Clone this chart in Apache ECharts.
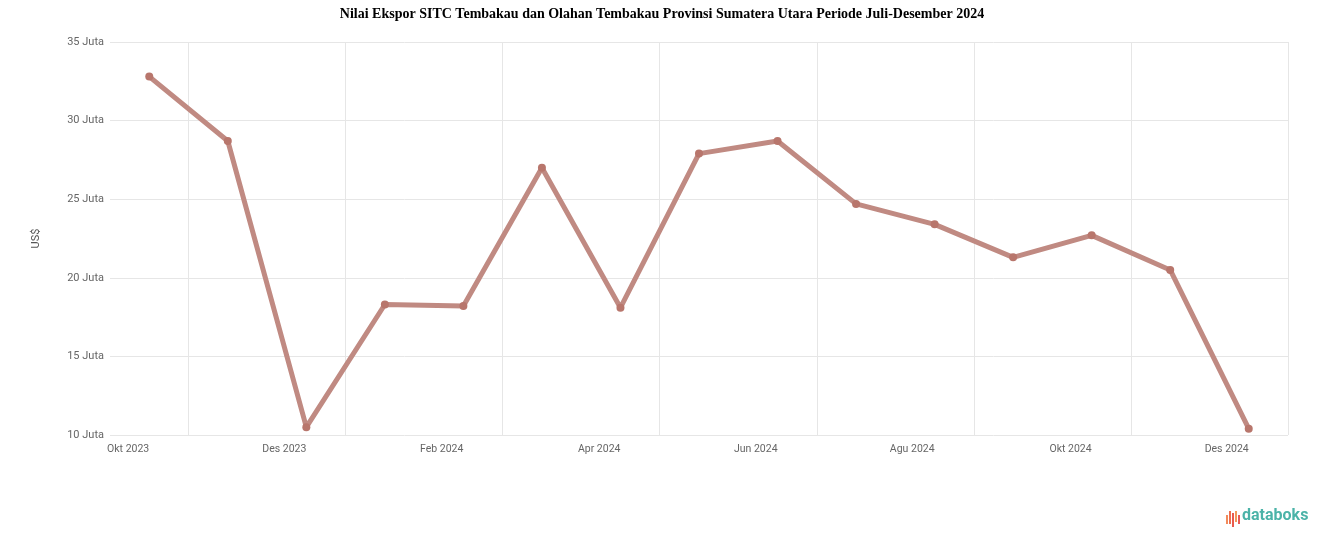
<!DOCTYPE html>
<html>
<head>
<meta charset="utf-8">
<script src="https://cdn.jsdelivr.net/npm/echarts@6/dist/echarts.min.js"></script>
<style>
html,body{margin:0;padding:0;background:#fff;}
#chart{width:1324px;height:547px;}
</style>
</head>
<body>
<div id="chart"></div>
<script>
const titleText = 'Nilai Ekspor SITC Tembakau dan Olahan Tembakau Provinsi Sumatera Utara Periode Juli-Desember 2024';
const categories = ['Okt 2023','Nov 2023','Des 2023','Jan 2024','Feb 2024','Mar 2024','Apr 2024','Mei 2024','Jun 2024','Jul 2024','Agu 2024','Sep 2024','Okt 2024','Nov 2024','Des 2024'];
const values = [32.8, 28.7, 10.5, 18.3, 18.2, 27.0, 18.1, 27.9, 28.7, 24.7, 23.4, 21.3, 22.7, 20.5, 10.4];
const yName = 'US$';
const yMin = 10, yMax = 35, yInterval = 5;
const yUnit = ' Juta';

const chart = echarts.init(document.getElementById('chart'));
chart.setOption({
  backgroundColor: '#ffffff',
  animation: false,
  title: {
    text: titleText,
    left: 'center',
    top: 2,
    textStyle: {fontFamily: 'Liberation Serif', fontWeight: 'bold', fontSize: 14, color: '#000'}
  },
  grid: {left: 110, right: 36, top: 42, bottom: 112},
  xAxis: {
    type: 'category',
    data: categories,
    boundaryGap: true,
    axisLine: {show: false},
    axisTick: {show: false},
    axisLabel: {
      interval: function (i) { return i % 2 === 0; },
      align: 'right',
      margin: 9,
      fontFamily: 'Roboto',
      fontSize: 10.5,
      color: '#666'
    },
    splitLine: {
      show: true,
      interval: function (i) { return i % 2 === 1; },
      lineStyle: {color: '#e6e6e6', width: 1}
    }
  },
  yAxis: {
    type: 'value',
    min: yMin, max: yMax, interval: yInterval,
    name: yName,
    nameLocation: 'middle',
    nameGap: 68,
    nameTextStyle: {fontFamily: 'Roboto', fontSize: 11, color: '#555'},
    axisLine: {show: false},
    axisTick: {show: false},
    axisLabel: {
      formatter: function (v) { return v + yUnit; },
      margin: 6,
      fontFamily: 'Roboto',
      fontSize: 11,
      color: '#666'
    },
    splitLine: {show: true, lineStyle: {color: '#e6e6e6', width: 1}}
  },
  series: [{
    type: 'line',
    data: values,
    symbol: 'circle',
    symbolSize: 8,
    itemStyle: {color: '#b8766c'},
    lineStyle: {color: '#c08a82', width: 5}
  }],
  graphic: [
    {type: 'rect', left: 1226, top: 515, shape: {width: 2, height: 9}, style: {fill: '#f28b5b'}},
    {type: 'rect', left: 1229, top: 511, shape: {width: 2, height: 13}, style: {fill: '#ef6e4e'}},
    {type: 'rect', left: 1232, top: 513, shape: {width: 2, height: 14}, style: {fill: '#e95a4d'}},
    {type: 'rect', left: 1235, top: 511, shape: {width: 2, height: 11}, style: {fill: '#f39a5b'}},
    {type: 'rect', left: 1238, top: 515, shape: {width: 2, height: 9}, style: {fill: '#e85b55'}},
    {type: 'text', left: 1242, top: 508, style: {text: 'databoks', fontFamily: 'Roboto', fontWeight: 'bold', fontSize: 16, fill: '#4bb3a8'}}
  ]
});
</script>
</body>
</html>
